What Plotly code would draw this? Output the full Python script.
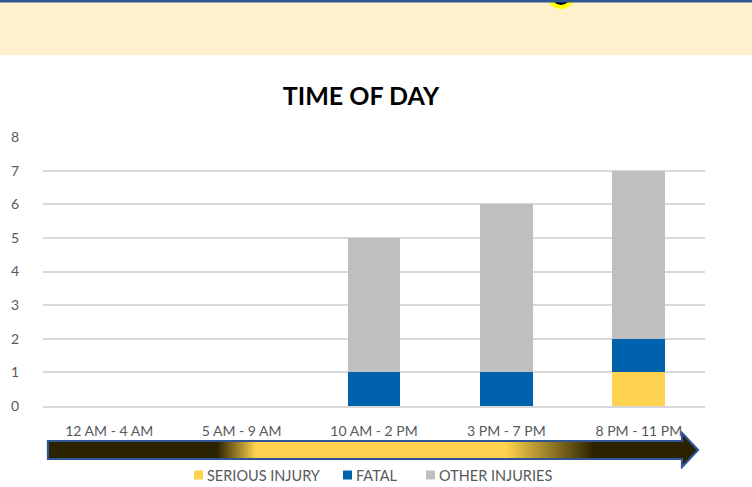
import base64
import plotly.graph_objects as go

categories = ["12 AM - 4 AM", "5 AM - 9 AM", "10 AM - 2 PM", "3 PM - 7 PM", "8 PM - 11 PM"]
serious_injury = [0, 0, 0, 0, 1]
fatal = [0, 0, 1, 1, 1]
other_injuries = [0, 0, 4, 5, 5]
y_ticks = [0, 1, 2, 3, 4, 5, 6, 7, 8]
series_names = ["SERIOUS INJURY", "FATAL", "OTHER INJURIES"]
series_colors = ["#FFD34F", "#0062AD", "#BFBFBF"]

W, H = 752, 487
L, R, T, B = 43, 47, 137, 81
PW, PH = W - L - R, H - T - B


def px(x):
    return (x - L) / PW


def py(y):
    return (H - B - y) / PH


FONT = "Lato"
GREY = "#595959"

fig = go.Figure()
for name, vals, col in zip(series_names, [serious_injury, fatal, other_injuries], series_colors):
    fig.add_trace(go.Bar(x=categories, y=vals, name=name, marker_color=col, marker_line_width=0))

# gradient arrow as svg image
ax0, ay0, aw, ah = 45, 431, 656, 38
svg = f'''<svg xmlns="http://www.w3.org/2000/svg" width="{aw}" height="{ah}" viewBox="0 0 {aw} {ah}" preserveAspectRatio="none">
<defs><linearGradient id="g" gradientUnits="userSpaceOnUse" x1="3" y1="0" x2="653" y2="0">
<stop offset="0" stop-color="#2B2200"/>
<stop offset="0.26" stop-color="#2B2200"/>
<stop offset="0.32" stop-color="#FFD34F"/>
<stop offset="0.705" stop-color="#FFD34F"/>
<stop offset="0.84" stop-color="#2B2200"/>
<stop offset="1" stop-color="#2B2200"/>
</linearGradient></defs>
<polygon points="3,10 637,10 637,2 653,19 637,36 637,28 3,28" fill="url(#g)" stroke="#2F5597" stroke-width="2.2" stroke-linejoin="miter"/>
</svg>'''
src = "data:image/svg+xml;base64," + base64.b64encode(svg.encode()).decode()

shapes = [
    dict(type="rect", xref="paper", yref="paper", x0=px(0), x1=px(W), y0=py(0), y1=py(55),
         fillcolor="#FFF1CC", line_width=0, layer="below"),
    dict(type="circle", xref="paper", yref="paper", x0=px(549), x1=px(573), y0=py(-17), y1=py(7),
         fillcolor="#000000", line=dict(color="#FFFF00", width=4)),
    dict(type="rect", xref="paper", yref="paper", x0=px(0), x1=px(W), y0=py(0), y1=py(2.5),
         fillcolor="#2F5597", line_width=0),
]

# custom legend (square + text)
legend_sq_x = [194, 343, 426]
legend_y = 475
annotations = []
for name, col, sx in zip(series_names, series_colors, legend_sq_x):
    shapes.append(dict(type="rect", xref="paper", yref="paper", x0=px(sx), x1=px(sx + 9),
                       y0=py(legend_y - 4.5), y1=py(legend_y + 4.5), fillcolor=col, line_width=0))
    annotations.append(dict(text=name, xref="paper", yref="paper", x=px(sx + 11), y=py(legend_y),
                            xanchor="left", yanchor="middle", showarrow=False,
                            font=dict(family=FONT, size=14.5, color=GREY)))

fig.update_layout(
    width=W, height=H,
    margin=dict(l=L, r=R, t=T, b=B, autoexpand=False),
    paper_bgcolor="white", plot_bgcolor="white",
    barmode="stack", bargap=0.6,
    font=dict(family=FONT, size=14, color=GREY),
    title=dict(text="<b>TIME OF DAY</b>", x=px(361), xref="paper", xanchor="center",
               y=1 - 96 / H, yref="container", yanchor="middle",
               font=dict(family=FONT, size=25, color="#000000")),
    showlegend=False,
    xaxis=dict(showgrid=False, showline=True, linecolor="#D9D9D9", linewidth=1.5,
               ticks="", ticklabelstandoff=11, tickfont=dict(size=14, color=GREY), fixedrange=True),
    yaxis=dict(range=[0, 8], tickvals=y_ticks, showgrid=True, gridcolor="#D9D9D9", gridwidth=1.5,
               zeroline=False, showline=False, ticks="", ticklabelstandoff=23,
               tickfont=dict(size=14, color=GREY)),
    shapes=shapes,
    annotations=annotations,
    images=[dict(source=src, xref="paper", yref="paper", x=px(ax0), y=py(ay0),
                 sizex=aw / PW, sizey=ah / PH, xanchor="left", yanchor="top",
                 sizing="stretch", layer="above")],
)

fig.write_html("out.html", config={"displayModeBar": False},
               post_script="document.body.style.margin='0';document.body.style.overflow='hidden';")
